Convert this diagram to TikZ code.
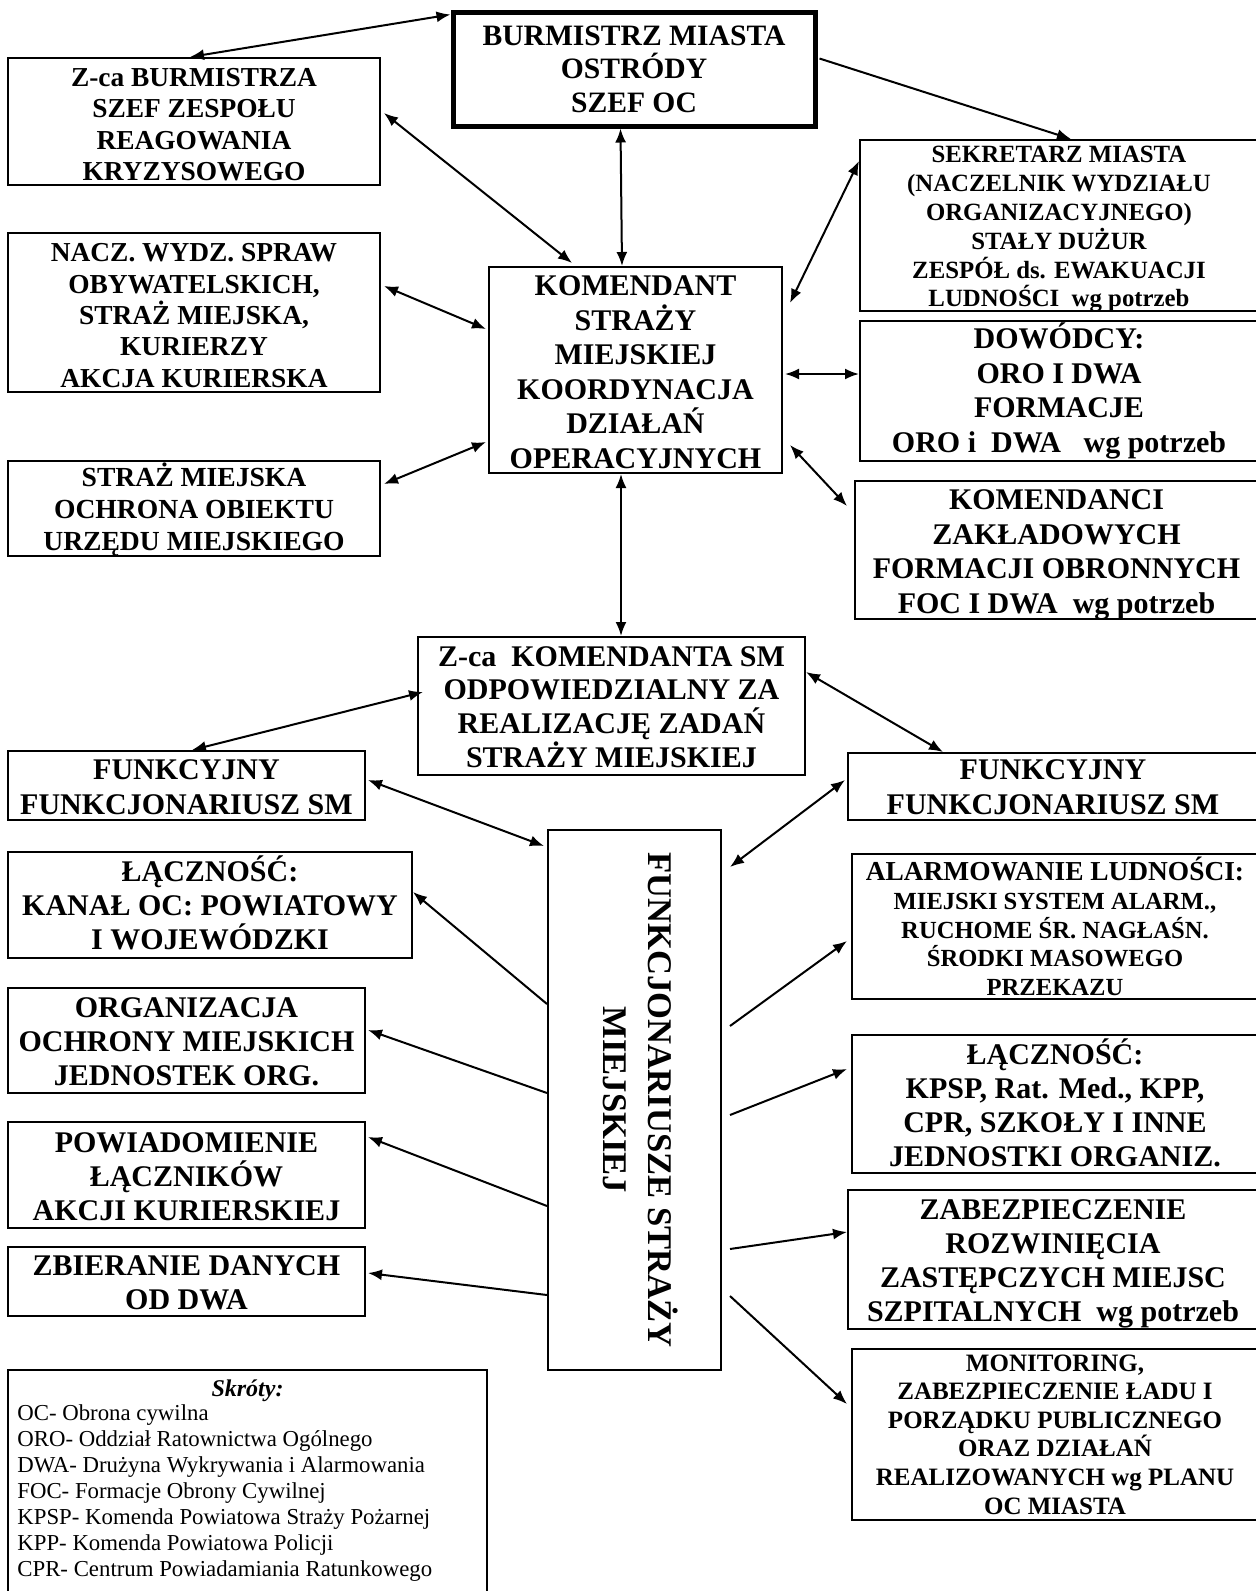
\documentclass[tikz,border=0pt]{standalone}
\usepackage{fontspec}
\setmainfont{Liberation Serif}
\usetikzlibrary{arrows.meta,calc}
\newcommand\bfz[2]{\bfseries\fontsize{#1}{#2}\selectfont}
\tikzset{
  box/.style={draw, line width=1pt, inner sep=0pt},
  boxtext/.style={inner sep=0pt, align=center},
  conn/.style={line width=1pt, -{Latex[length=7pt,width=5.5pt]}},
  biconn/.style={line width=1pt, {Latex[length=7pt,width=5.5pt]}-{Latex[length=7pt,width=5.5pt]}},
}
% \bx[box options]{name}{x1}{y1}{x2}{y2}{text dy}{font}{text}
\newcommand\bx[9][]{%
  \pgfmathsetmacro\bxw{(#5-#3)*0.5}%
  \pgfmathsetmacro\bxh{(#6-#4)*0.5}%
  \node[box,#1,minimum width=\bxw pt,minimum height=\bxh pt] (#2) at ({(#3+#5)/2},{(#4+#6)/2}) {};%
  \node[boxtext,font=#8] (#2-t) at ($(#2.center)+(0,#7)$) {#9};}
\begin{document}
\begin{tikzpicture}[x=0.5pt,y=-0.5pt]
\useasboundingbox (0,0) rectangle (1255,1591);
\fill[white] (0,0) rectangle (1255,1591);
% boxes
\bx[line width=2.5pt]{bur}{453}{12}{815}{126}{0}{\bfz{14.8}{16.75}}{BURMISTRZ MIASTA\\OSTRÓDY\\SZEF OC}
\bx{zcab}{8}{58}{380}{185}{3}{\bfz{13.7}{15.7}}{Z-ca BURMISTRZA\\SZEF ZESPOŁU\\REAGOWANIA\\KRYZYSOWEGO}
\bx{sek}{860}{140}{1258}{311}{4}{\bfz{12.4}{14.4}}{SEKRETARZ MIASTA\\(NACZELNIK WYDZIAŁU\\ORGANIZACYJNEGO)\\STAŁY DUŻUR\\ZESPÓŁ ds. EWAKUACJI\\LUDNOŚCI\ \ wg potrzeb}
\bx{nacz}{8}{233}{380}{392}{3}{\bfz{13.7}{15.7}}{NACZ. WYDZ. SPRAW\\OBYWATELSKICH,\\STRAŻ MIEJSKA,\\KURIERZY\\AKCJA KURIERSKA}
\bx{kom}{489}{267}{782}{473}{2}{\bfz{15}{17.25}}{KOMENDANT\\STRAŻY\\MIEJSKIEJ\\KOORDYNACJA\\DZIAŁAŃ\\OPERACYJNYCH}
\bx{dow}{860}{321}{1258}{461}{0}{\bfz{15}{17.4}}{DOWÓDCY:\\ORO I DWA\\FORMACJE\\ORO i\ \ DWA\ \ \ wg potrzeb}
\bx{straz}{8}{461}{380}{556}{1}{\bfz{13.8}{16}}{STRAŻ MIEJSKA\\OCHRONA OBIEKTU\\URZĘDU MIEJSKIEGO}
\bx{kmd}{855}{481}{1258}{619}{5}{\bfz{15}{17.25}}{KOMENDANCI\\ZAKŁADOWYCH\\FORMACJI OBRONNYCH\\FOC I DWA\ \ wg potrzeb}
\bx{zcak}{418}{637}{805}{775}{1}{\bfz{15}{16.9}}{Z-ca\ \ KOMENDANTA SM\\ODPOWIEDZIALNY ZA\\REALIZACJĘ ZADAŃ\\STRAŻY MIEJSKIEJ}
\bx{funkL}{8}{751}{365}{820}{1.5}{\bfz{15}{17.25}}{FUNKCYJNY\\FUNKCJONARIUSZ SM}
\bx{funkR}{848}{753}{1258}{820}{0.5}{\bfz{15}{17.25}}{FUNKCYJNY\\FUNKCJONARIUSZ SM}
\bx{fs}{548}{830}{721}{1370}{0}{}{}
\node[rotate=-90, boxtext, font=\bfz{17.3}{22.8}] (fstext) at ($(fs.center)+(6,0)$) {FUNKCJONARIUSZE STRAŻY\\MIEJSKIEJ};
\bx{lacL}{8}{852}{412}{958}{-2}{\bfz{15}{17}}{ŁĄCZNOŚĆ:\\KANAŁ OC: POWIATOWY\\I WOJEWÓDZKI}
\bx{alarm}{852}{854}{1258}{999}{0}{\bfz{12.3}{14.4}}{{\fontsize{13.7}{14.4}\selectfont ALARMOWANIE LUDNOŚCI:}\\MIEJSKI SYSTEM ALARM.,\\RUCHOME ŚR. NAGŁAŚN.\\ŚRODKI MASOWEGO\\PRZEKAZU}
\bx{org}{8}{988}{365}{1093}{1}{\bfz{15}{17}}{ORGANIZACJA\\OCHRONY MIEJSKICH\\JEDNOSTEK ORG.}
\bx{lacR}{852}{1035}{1258}{1173}{-1.5}{\bfz{15}{17}}{ŁĄCZNOŚĆ:\\KPSP, Rat. Med., KPP,\\CPR, SZKOŁY I INNE\\JEDNOSTKI ORGANIZ.}
\bx{pow}{8}{1122}{365}{1228}{2}{\bfz{15}{17}}{POWIADOMIENIE\\ŁĄCZNIKÓW\\AKCJI KURIERSKIEJ}
\bx{zab}{848}{1190}{1258}{1329}{4.5}{\bfz{15}{17}}{ZABEZPIECZENIE\\ROZWINIĘCIA\\ZASTĘPCZYCH MIEJSC\\SZPITALNYCH\ \ wg potrzeb}
\bx{zbier}{8}{1247}{365}{1316}{1}{\bfz{15}{17}}{ZBIERANIE DANYCH\\OD DWA}
\bx{mon}{852}{1349}{1258}{1520}{0}{\bfz{12.5}{14.3}}{MONITORING,\\ZABEZPIECZENIE ŁADU I\\PORZĄDKU PUBLICZNEGO\\ORAZ DZIAŁAŃ\\REALIZOWANYCH wg PLANU\\OC MIASTA}
\bx{skr}{8}{1370}{487}{1600}{0}{}{}
\node[anchor=north, inner sep=0pt, font=\bfseries\itshape\fontsize{12}{13}\selectfont] (skrtitle) at ($(skr.north)+(0,10)$) {Skróty:};
\node[anchor=north west, inner sep=0pt, align=left, font=\fontsize{11.4}{13}\selectfont] (skrlist) at ($(skr.north west)+(10,35)$) {OC- Obrona cywilna\\ORO- Oddział Ratownictwa Ogólnego\\DWA- Drużyna Wykrywania i Alarmowania\\FOC- Formacje Obrony Cywilnej\\KPSP- Komenda Powiatowa Straży Pożarnej\\KPP- Komenda Powiatowa Policji\\CPR- Centrum Powiadamiania Ratunkowego};
% connectors
\draw[biconn] ($(bur.north west)+(0,5)$) -- ($(zcab.north west)+(183,0)$);
\draw[conn] ($(bur.north east)+(2,49)$) -- ($(sek.north west)+(212,0)$);
\draw[biconn] ($(bur.south west)+(170,0)$) -- ($(kom.north west)+(134,0)$);
\draw[biconn] ($(zcab.north east)+(3,56)$) -- ($(kom.north west)+(84,-3)$);
\draw[biconn] ($(sek.north west)+(0,22)$) -- ($(kom.north east)+(7,37)$);
\draw[biconn] ($(nacz.north east)+(3,54)$) -- ($(kom.north west)+(-2,63)$);
\draw[biconn] ($(kom.north east)+(2,108)$) -- ($(dow.north west)+(0,54)$);
\draw[biconn] ($(straz.north east)+(3,24)$) -- ($(kom.north west)+(-2,176)$);
\draw[biconn] ($(kom.north east)+(7,179)$) -- ($(kmd.north west)+(-7,26)$);
\draw[biconn] ($(kom.south west)+(133,0)$) -- ($(zcak.north west)+(204,0)$);
\draw[biconn] ($(zcak.north west)+(6,56)$) -- ($(funkL.north west)+(185,0)$);
\draw[biconn] ($(zcak.north east)+(0,36)$) -- ($(funkR.north west)+(96,0)$);
\draw[biconn] ($(funkL.north east)+(2,30)$) -- ($(fs.north west)+(-3,17)$);
\draw[biconn] ($(funkR.north west)+(-2,28)$) -- ($(fs.north east)+(8,38)$);
\draw[conn] ($(fs.north west)+(0,175)$) -- ($(lacL.north east)+(0,41)$);
\draw[conn] ($(fs.north west)+(0,264)$) -- ($(org.north east)+(2,43)$);
\draw[conn] ($(fs.north west)+(0,377)$) -- ($(pow.north east)+(2,16)$);
\draw[conn] ($(fs.north west)+(0,466)$) -- ($(zbier.north east)+(2,27)$);
\draw[conn] ($(fs.north east)+(8,197)$) -- ($(alarm.north west)+(-4,88)$);
\draw[conn] ($(fs.north east)+(8,286)$) -- ($(lacR.north west)+(-4,35)$);
\draw[conn] ($(fs.north east)+(8,420)$) -- ($(zab.north west)+(0,43)$);
\draw[conn] ($(fs.north east)+(8,467)$) -- ($(mon.north west)+(-4,56)$);
\end{tikzpicture}
\end{document}
